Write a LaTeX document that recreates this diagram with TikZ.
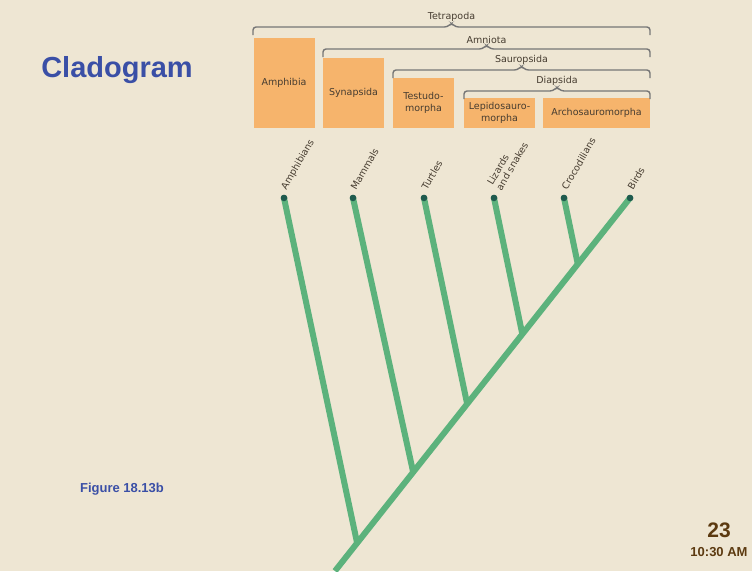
\documentclass[tikz,border=0pt]{standalone}
\usepackage{fontspec}
\setmainfont{Liberation Sans}
\newfontfamily\figfont{DejaVu Sans}
\usetikzlibrary{positioning, calc}
\definecolor{cbg}{HTML}{EEE6D3}
\definecolor{ctitle}{HTML}{3A4FA6}
\definecolor{cbrown}{HTML}{5C3A10}
\definecolor{cbox}{HTML}{F6B46C}
\definecolor{cbrace}{HTML}{767676}
\definecolor{cbranch}{HTML}{5CB27C}
\definecolor{ctip}{HTML}{1F5B4E}
\definecolor{ctext}{HTML}{463C30}
\tikzset{
  taxon/.style={fill=cbox, inner sep=0pt, align=center, text=ctext, font=\figfont\fontsize{9.5}{12.5}\selectfont},
  cladename/.style={anchor=south, inner sep=1pt, text=ctext, font=\figfont\fontsize{9.5}{11}\selectfont},
  bracket/.style={draw=cbrace, line width=1.4pt, rounded corners=3pt},
  branch/.style={draw=cbranch, line width=6pt},
  tip/.style={circle, fill=ctip, inner sep=0pt, minimum size=6.5pt},
  tiplabel/.style={rotate=60, anchor=west, inner sep=0pt, align=left, text=ctext, font=\figfont\fontsize{9.5}{10.5}\selectfont},
}

\begin{document}
\begin{tikzpicture}[x=1pt, y=-1pt]
  \fill[cbg] (0,0) rectangle (752,571);
  \useasboundingbox (0,0) rectangle (752,571);
  % slide texts
  \node[text=ctitle, font=\bfseries\fontsize{29}{32}\selectfont] (title) at (117,70) {Cladogram};
  \node[text=ctitle, font=\bfseries\fontsize{13}{15}\selectfont] (fig) at (122,489) {Figure 18.13b};
  \node[text=cbrown, font=\bfseries\fontsize{21}{24}\selectfont] (page) at (719,530) {23};
  \node[text=cbrown, font=\bfseries\fontsize{13}{15}\selectfont, below=3pt of page] (time) {10:30 AM};
  % groups and brackets
  \node[taxon, minimum width=61pt, minimum height=90pt] (amphibia) at (284,83) {Amphibia};
  \node[taxon, minimum width=61pt, minimum height=70pt] (synapsida) at (353.5,93) {Synapsida};
  \node[taxon, minimum width=61pt, minimum height=50pt] (testudo) at (423.5,103) {Testudo-\\morpha};
  \node[taxon, minimum width=71pt, minimum height=30pt] (lepido) at (499.5,113) {Lepidosauro-\\morpha};
  \node[taxon, minimum width=107pt, minimum height=30pt] (archo) at (596.5,113) {Archosauromorpha};
  \foreach \xl/\yb/\lab in {253/27/Tetrapoda, 323/49/Amniota, 393/70/Sauropsida, 464/91/Diapsida}{
    \pgfmathsetmacro{\xm}{(\xl+650)/2}
    \draw[bracket] (\xl,\yb+8) -- (\xl,\yb) -- (\xm-4,\yb) -- (\xm,\yb-4) -- (\xm+4,\yb) -- (650,\yb) -- (650,\yb+8);
    \node[cladename] at (\xm,\yb-4) {\lab};
  }
  % tree
  \coordinate (root) at (335,571);
  \node[tip] (birds) at (630,198) {};
  \node[tip] (amph) at (284,198) {};
  \node[tip] (mamm) at (353,198) {};
  \node[tip] (turt) at (424,198) {};
  \node[tip] (liz) at (494,198) {};
  \node[tip] (croc) at (564,198) {};
  \coordinate (jamph) at ($(root)!0.075!(birds)$);
  \coordinate (jmamm) at ($(root)!0.265!(birds)$);
  \coordinate (jturt) at ($(root)!0.448!(birds)$);
  \coordinate (jliz) at ($(root)!0.635!(birds)$);
  \coordinate (jcroc) at ($(root)!0.823!(birds)$);
  \draw[branch] (root) -- (birds.center);
  \foreach \t/\j in {amph/jamph, mamm/jmamm, turt/jturt, liz/jliz, croc/jcroc}
    \draw[branch] (\j) -- (\t.center);
  \foreach \t in {amph, mamm, turt, liz, croc, birds}
    \node[tip] at (\t) {};
  \node[tiplabel] at ([yshift=9pt]amph.center) {Amphibians};
  \node[tiplabel] at ([yshift=9pt]mamm.center) {Mammals};
  \node[tiplabel] at ([yshift=9pt]turt.center) {Turtles};
  \node[tiplabel] at ([yshift=11pt]liz.center) {Lizards\\and snakes};
  \node[tiplabel] at ([yshift=9pt]croc.center) {Crocodilians};
  \node[tiplabel] at ([yshift=9pt]birds.center) {Birds};
\end{tikzpicture}
\end{document}
